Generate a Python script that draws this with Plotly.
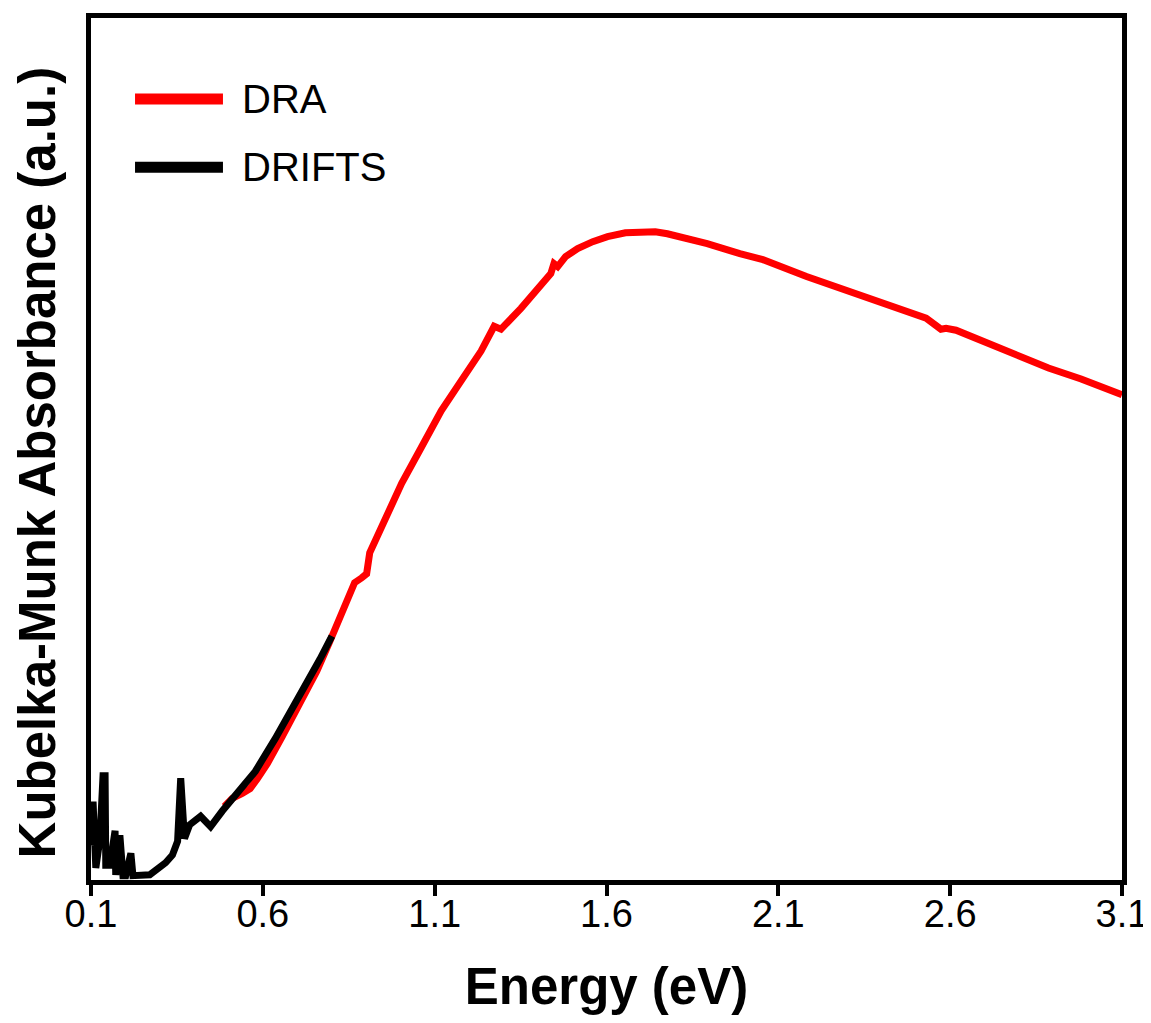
import plotly.graph_objects as go

# ---- data ----
dra_energy = [0.488, 0.511, 0.540, 0.563, 0.584, 0.613, 0.656, 0.714, 0.757, 0.795,
              0.830, 0.867, 0.888, 0.902, 0.911, 0.946, 1.004, 1.061, 1.119, 1.177,
              1.235, 1.273, 1.293, 1.351, 1.409, 1.438, 1.447, 1.458, 1.481, 1.516,
              1.560, 1.603, 1.655, 1.699, 1.742, 1.777, 1.829, 1.893, 1.988, 2.055,
              2.182, 2.278, 2.373, 2.472, 2.530, 2.573, 2.588, 2.617, 2.692, 2.790,
              2.886, 2.981, 3.100]
dra_absorb = [8.54, 9.46, 10.03, 10.61, 11.76, 13.49, 16.61, 20.76, 24.22, 27.68,
              31.03, 34.49, 35.06, 35.52, 37.95, 40.95, 46.02, 50.17, 54.44, 57.90,
              61.36, 64.24, 63.90, 66.32, 68.86, 70.36, 71.51, 71.16, 72.32, 73.24,
              74.05, 74.63, 75.09, 75.20, 75.20, 74.97, 74.51, 73.82, 72.66, 71.97,
              70.01, 68.63, 67.36, 65.97, 65.17, 63.90, 64.01, 63.78, 62.51, 61.01,
              59.40, 58.13, 56.29]

drifts_energy = [0.100, 0.106, 0.114, 0.126, 0.135, 0.141, 0.143, 0.155, 0.170, 0.172,
                 0.184, 0.193, 0.201, 0.216, 0.222, 0.242, 0.271, 0.317, 0.337, 0.352,
                 0.361, 0.372, 0.387, 0.419, 0.448, 0.482, 0.540, 0.578, 0.636, 0.685,
                 0.728, 0.766, 0.801]
drifts_absorb = [4.0, 9.1, 1.4, 4.8, 12.1, 12.1, 1.7, 1.7, 5.7, 0.6,
                 5.2, 0.5, 0.5, 3.1, 0.5, 0.6, 0.6, 2.0, 2.9, 4.5,
                 11.8, 4.8, 6.4, 7.4, 6.2, 8.0, 10.6, 12.6, 16.4, 19.8,
                 23.1, 25.6, 28.3]

x_ticks = [0.1, 0.6, 1.1, 1.6, 2.1, 2.6, 3.1]
x_ticktext = ["0.1", "0.6", "1.1", "1.6", "2.1", "2.6", "3.1"]
series_names = ["DRA", "DRIFTS"]
series_colors = ["#ff0000", "#000000"]

FONT = "Liberation Sans, Arial, sans-serif"

fig = go.Figure()
fig.add_trace(go.Scatter(x=dra_energy, y=dra_absorb, mode="lines", name=series_names[0],
                         line=dict(color=series_colors[0], width=7), showlegend=False))
fig.add_trace(go.Scatter(x=drifts_energy, y=drifts_absorb, mode="lines", name=series_names[1],
                         line=dict(color=series_colors[1], width=7), showlegend=False))

# manual legend (thick sample lines as in the reference)
leg_y = [0.906, 0.827]
for i, (name, col) in enumerate(zip(series_names, series_colors)):
    fig.add_shape(type="line", xref="paper", yref="paper",
                  x0=0.0427, x1=0.128, y0=leg_y[i], y1=leg_y[i],
                  line=dict(color=col, width=11))
    fig.add_annotation(x=0.1445, y=leg_y[i], xref="paper", yref="paper",
                       text=name, showarrow=False, xanchor="left", yanchor="middle",
                       font=dict(family=FONT, size=40, color="black"))

# y-axis title placed precisely
fig.add_annotation(x=-0.0518, y=0.484, xref="paper", yref="paper",
                   text="<b>Kubelka-Munk Absorbance (a.u.)</b>", textangle=-90,
                   showarrow=False, xanchor="center", yanchor="middle",
                   font=dict(family=FONT, size=51, color="black"))

fig.update_layout(
    width=1135, height=1007,
    margin=dict(l=83, r=21, t=10, b=135),
    paper_bgcolor="white", plot_bgcolor="white",
    font=dict(family=FONT, color="black"),
    xaxis=dict(range=[0.1, 3.1], tickvals=x_ticks, ticktext=x_ticktext,
               ticks="outside", ticklen=11, tickwidth=4, tickcolor="black",
               ticklabeloverflow="allow", ticklabelstandoff=-15, automargin=False,
               showline=True, linewidth=5, linecolor="black", mirror=True,
               showgrid=False, zeroline=False,
               tickfont=dict(family=FONT, size=38, color="black"),
               title=dict(text="<b>Energy (eV)</b>", standoff=38,
                          font=dict(family=FONT, size=51, color="black"))),
    yaxis=dict(range=[0, 100], showticklabels=False, ticks="", automargin=False,
               showline=True, linewidth=5, linecolor="black", mirror=True,
               showgrid=False, zeroline=False),
)

fig.write_html("out.html")
